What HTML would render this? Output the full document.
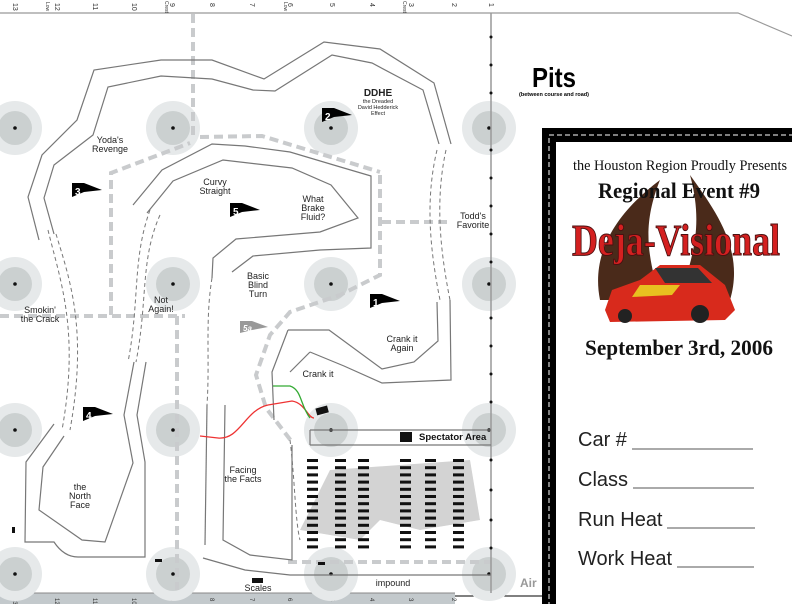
<!DOCTYPE html>
<html><head><meta charset="utf-8"><style>
html,body{margin:0;padding:0;background:#fff;width:792px;height:604px;overflow:hidden}
svg{display:block}
.t{font-family:"Liberation Sans",sans-serif;font-size:9px;fill:#222;text-anchor:middle}
.r{font-family:"Liberation Sans",sans-serif;font-size:7px;fill:#333}
.s{font-family:"Liberation Serif",serif;fill:#111;text-anchor:middle}
.f{font-family:"Liberation Sans",sans-serif;font-size:20px;fill:#222}
</style></head><body>
<svg width="792" height="604" viewBox="0 0 792 604" xmlns="http://www.w3.org/2000/svg">
<defs>
<g id="cone"><circle r="27" fill="#e6e9ea"/><circle r="17" fill="#cbd0d0"/><circle r="1.8" fill="#111"/></g>
<g id="flag"><polygon points="0,0 12,0 30,7 12,9 0,14" fill="#000"/></g>
<g id="car"><rect x="0" y="0" width="11" height="3" fill="#111"/></g>
<g id="col"><use href="#car" y="0"/><use href="#car" y="7.2"/><use href="#car" y="14.4"/><use href="#car" y="21.6"/><use href="#car" y="28.8"/><use href="#car" y="36"/><use href="#car" y="43.2"/><use href="#car" y="50.4"/><use href="#car" y="57.6"/><use href="#car" y="64.8"/><use href="#car" y="72"/><use href="#car" y="79.2"/><use href="#car" y="86.4"/></g>
</defs>
<!-- top ruler -->
<polyline points="0,13 738,13 792,36" fill="none" stroke="#999" stroke-width="1.2"/>
<g class="r">
<text transform="translate(13,3) rotate(90)">13</text>
<text transform="translate(46,2) rotate(90)" style="font-size:5px">Low</text>
<text transform="translate(55,3) rotate(90)">12</text>
<text transform="translate(93,3) rotate(90)">11</text>
<text transform="translate(132,3) rotate(90)">10</text>
<text transform="translate(165,1) rotate(90)" style="font-size:5px">Crest</text>
<text transform="translate(170,3) rotate(90)">9</text>
<text transform="translate(210,3) rotate(90)">8</text>
<text transform="translate(250,3) rotate(90)">7</text>
<text transform="translate(284,2) rotate(90)" style="font-size:5px">Low</text>
<text transform="translate(288,3) rotate(90)">6</text>
<text transform="translate(330,3) rotate(90)">5</text>
<text transform="translate(370,3) rotate(90)">4</text>
<text transform="translate(403,1) rotate(90)" style="font-size:5px">Crest</text>
<text transform="translate(409,3) rotate(90)">3</text>
<text transform="translate(452,3) rotate(90)">2</text>
<text transform="translate(489,3) rotate(90)">1</text>
</g>
<!-- bottom ruler -->
<rect x="0" y="593" width="455" height="11" fill="#c3c9cc"/>
<line x1="0" y1="593" x2="455" y2="593" stroke="#888"/>
<line x1="455" y1="596" x2="545" y2="596" stroke="#000"/>
<g class="r" style="font-size:6px">
<text transform="translate(13,598) rotate(90)">13</text><text transform="translate(55,598) rotate(90)">12</text>
<text transform="translate(93,598) rotate(90)">11</text><text transform="translate(132,598) rotate(90)">10</text>
<text transform="translate(170,598) rotate(90)">9</text><text transform="translate(210,598) rotate(90)">8</text>
<text transform="translate(250,598) rotate(90)">7</text><text transform="translate(288,598) rotate(90)">6</text>
<text transform="translate(330,598) rotate(90)">5</text><text transform="translate(370,598) rotate(90)">4</text>
<text transform="translate(409,598) rotate(90)">3</text><text transform="translate(452,598) rotate(90)">2</text>
</g>
<!-- cones -->
<use href="#cone" x="15" y="128"/><use href="#cone" x="173" y="128"/><use href="#cone" x="331" y="128"/><use href="#cone" x="489" y="128"/>
<use href="#cone" x="15" y="284"/><use href="#cone" x="173" y="284"/><use href="#cone" x="331" y="284"/><use href="#cone" x="489" y="284"/>
<use href="#cone" x="15" y="430"/><use href="#cone" x="173" y="430"/><use href="#cone" x="331" y="430"/><use href="#cone" x="489" y="430"/>
<use href="#cone" x="15" y="574"/><use href="#cone" x="173" y="574"/><use href="#cone" x="331" y="574"/><use href="#cone" x="489" y="574"/>
<!-- gray dashed lanes -->
<g fill="none" stroke="#c9cbcd" stroke-width="4" stroke-dasharray="9,5">
<polyline points="193,14 193,135"/>
<polyline points="200,137 262,136 380,172"/>
<polyline points="111,315 111,173 190,143"/>
<polyline points="0,316 185,316"/>
<polyline points="177,316 177,590"/>
<polyline points="380,175 380,275 340,295 290,312 270,335 256,375 266,408 292,442"/>
<polyline points="382,222 447,222"/>
<polyline points="288,562 491,562"/>
</g>
<!-- pits line -->
<line x1="491" y1="13" x2="491" y2="593" stroke="#999" stroke-width="1.5"/>
<g fill="#111"><circle cx="491" cy="37" r="1.5"/><circle cx="491" cy="65" r="1.5"/><circle cx="491" cy="93" r="1.5"/><circle cx="491" cy="150" r="1.5"/><circle cx="491" cy="178" r="1.5"/><circle cx="491" cy="206" r="1.5"/><circle cx="491" cy="234" r="1.5"/><circle cx="491" cy="262" r="1.5"/><circle cx="491" cy="318" r="1.5"/><circle cx="491" cy="346" r="1.5"/><circle cx="491" cy="374" r="1.5"/><circle cx="491" cy="402" r="1.5"/><circle cx="491" cy="460" r="1.5"/><circle cx="491" cy="490" r="1.5"/><circle cx="491" cy="520" r="1.5"/><circle cx="491" cy="548" r="1.5"/></g>
<!-- course lines -->
<g fill="none" stroke="#777" stroke-width="1.2">
<polyline points="54,234 44,198 54,165 93,135 108,87 161,76 212,79 253,90 275,91 332,55 372,63 423,90 439,144"/>
<polyline points="39,240 28,197 42,155 77,120 94,70 161,60 212,60 264,79 324,42 380,49 434,83 451,144"/>
<polyline points="133,205 162,170 212,144 245,146 290,152 337,166 371,176 371,248 320,250 253,256 232,272"/>
<polyline points="147,213 173,181 223,160 292,168 331,185 358,218 320,232 236,239 213,258 212,278"/>
<path d="M54,424 L26,462 L25,542 L54,542 Q64,557 78,557 L145,557 L145,462 L137,415 L146,362"/>
<polyline points="64,436 43,467 39,510 82,540 105,542 133,463 124,415 134,362"/>
<polyline points="288,330 329,330 382,369 414,362 438,341 437,302"/>
<polyline points="310,352 344,366 382,383 451,380 450,300"/>
<polyline points="288,330 272,372 274,420"/>
<polyline points="310,352 290,372"/>
<polyline points="207,405 205,545"/>
<polyline points="225,405 223,540 250,555 292,560 292,445"/>
<polyline points="203,558 245,570 290,575 491,575"/>
<polyline points="310,430 491,430"/><polyline points="310,445 491,445"/><polyline points="310,430 310,445"/>
</g>
<g fill="none" stroke="#777" stroke-width="1" stroke-dasharray="4,3">
<path d="M48,230 C60,280 80,330 62,430"/>
<path d="M56,234 C70,280 88,330 70,430"/>
<path d="M160,215 C140,260 148,300 136,362"/>
<path d="M150,210 C132,260 140,300 128,362"/>
<path d="M437,150 C425,200 430,250 440,300"/>
<path d="M446,150 C435,200 440,250 450,300"/>
<path d="M212,278 C205,320 210,360 207,405"/>
<path d="M290,440 C295,480 295,520 300,540"/>
</g>
<path d="M200,436 L218,438 C240,440 245,410 268,405 L292,401 C305,403 308,418 314,418" fill="none" stroke="#e33" stroke-width="1.3"/>
<path d="M273,386 L290,386 C302,390 300,405 310,418" fill="none" stroke="#3a3" stroke-width="1.3"/>
<g fill="#111">
<rect x="316" y="407" width="12" height="7" transform="rotate(-15 322 410)"/>
<rect x="400" y="432" width="12" height="10"/><rect x="252" y="578" width="11" height="5"/><rect x="155" y="559" width="7" height="3"/><rect x="318" y="562" width="7" height="3"/><rect x="12" y="527" width="3" height="6"/>
</g>
<!-- parking grid -->
<path d="M300,530 L330,470 L470,460 L480,520 L420,530 L380,520 L360,540 Z" fill="#d3d3d3"/>
<use href="#col" x="307" y="459"/><use href="#col" x="335" y="459"/><use href="#col" x="358" y="459"/>
<use href="#col" x="400" y="459"/><use href="#col" x="425" y="459"/><use href="#col" x="453" y="459"/>
<!-- flags -->
<use href="#flag" x="370" y="294"/><use href="#flag" x="322" y="108"/><use href="#flag" x="72" y="183"/><use href="#flag" x="83" y="407"/><use href="#flag" x="230" y="203"/>
<polygon points="240,321 252,321 268,327 252,330 240,333" fill="#999"/>
<g font-family="Liberation Sans,sans-serif" font-weight="bold" font-size="10" fill="#fff">
<text x="373" y="306">1</text><text x="325" y="120">2</text><text x="75" y="195">3</text><text x="86" y="419">4</text><text x="233" y="215">5</text><text x="243" y="331" font-style="italic" font-size="8">5a</text></g>
<!-- labels -->
<text class="t" x="110" y="143">Yoda's</text><text class="t" x="110" y="152">Revenge</text>
<text class="t" x="378" y="96" style="font-weight:bold;font-size:10px">DDHE</text>
<text class="t" x="378" y="103" style="font-size:5.5px">the Dreaded</text><text class="t" x="378" y="109" style="font-size:5.5px">David Hedderick</text><text class="t" x="378" y="115" style="font-size:5.5px">Effect</text>
<text class="t" x="215" y="185">Curvy</text><text class="t" x="215" y="194">Straight</text>
<text class="t" x="313" y="202">What</text><text class="t" x="313" y="211">Brake</text><text class="t" x="313" y="220">Fluid?</text>
<text class="t" x="473" y="219">Todd's</text><text class="t" x="473" y="228">Favorite</text>
<text class="t" x="258" y="279">Basic</text><text class="t" x="258" y="288">Blind</text><text class="t" x="258" y="297">Turn</text>
<text class="t" x="40" y="313">Smokin'</text><text class="t" x="40" y="322">the Crack</text>
<text class="t" x="161" y="303">Not</text><text class="t" x="161" y="312">Again!</text>
<text class="t" x="402" y="342">Crank it</text><text class="t" x="402" y="351">Again</text>
<text class="t" x="318" y="377">Crank it</text>
<text class="t" x="243" y="473">Facing</text><text class="t" x="243" y="482">the Facts</text>
<text class="t" x="80" y="490">the</text><text class="t" x="80" y="499">North</text><text class="t" x="80" y="508">Face</text>
<text class="t" x="258" y="591">Scales</text><text class="t" x="393" y="586">impound</text>
<text x="419" y="440" font-family="Liberation Sans,sans-serif" font-weight="bold" font-size="9.5" fill="#111">Spectator Area</text>
<text x="520" y="587" font-family="Liberation Sans,sans-serif" font-weight="bold" font-size="12" fill="#999">Air</text>
<text x="532" y="87" font-family="Liberation Sans,sans-serif" font-weight="bold" font-size="28" fill="#000" textLength="44" lengthAdjust="spacingAndGlyphs">Pits</text>
<text x="519" y="96" font-family="Liberation Sans,sans-serif" font-weight="bold" font-size="5" fill="#000" textLength="70" lengthAdjust="spacingAndGlyphs">(between course and road)</text>
<!-- right panel -->
<rect x="542" y="128" width="260" height="490" fill="#000"/>
<rect x="549" y="135" width="260" height="480" fill="none" stroke="#fff" stroke-width="1" stroke-dasharray="5,3"/>
<rect x="556" y="142" width="240" height="470" fill="#fff"/>
<path d="M600,300 C590,250 620,210 660,180 C640,230 650,260 660,300 Z" fill="#4a2a1a"/>
<path d="M730,300 C745,250 715,210 690,175 C705,230 690,260 680,300 Z" fill="#4a2a1a"/>
<text class="s" x="680" y="170" font-size="15" textLength="214" lengthAdjust="spacingAndGlyphs">the Houston Region Proudly Presents</text>
<text class="s" x="679" y="198" font-size="22" font-weight="bold" textLength="162" lengthAdjust="spacingAndGlyphs">Regional Event #9</text>
<text class="s" x="676" y="255" font-size="44" font-weight="bold" style="fill:#d42020" stroke="#4a1010" stroke-width="1" textLength="208" lengthAdjust="spacingAndGlyphs">Deja-Visional</text>
<path d="M605,310 L612,290 L640,280 L660,265 L700,265 L725,285 L735,310 L725,320 L610,322 Z" fill="#d82a1c"/>
<path d="M640,285 L680,285 L672,295 L632,297 Z" fill="#e8c020"/>
<path d="M655,268 L698,268 L712,283 L665,283 Z" fill="#333"/>
<circle cx="700" cy="314" r="9" fill="#222"/><circle cx="625" cy="316" r="7" fill="#222"/>
<text class="s" x="679" y="355" font-size="22" font-weight="bold" textLength="188" lengthAdjust="spacingAndGlyphs">September 3rd, 2006</text>
<text class="f" x="578" y="446">Car #</text><line x1="632" y1="449" x2="753" y2="449" stroke="#555"/>
<text class="f" x="578" y="486">Class</text><line x1="633" y1="488" x2="754" y2="488" stroke="#555"/>
<text class="f" x="578" y="526">Run Heat</text><line x1="667" y1="528" x2="755" y2="528" stroke="#555"/>
<text class="f" x="578" y="565">Work Heat</text><line x1="677" y1="567" x2="754" y2="567" stroke="#555"/>
</svg>
</body></html>
